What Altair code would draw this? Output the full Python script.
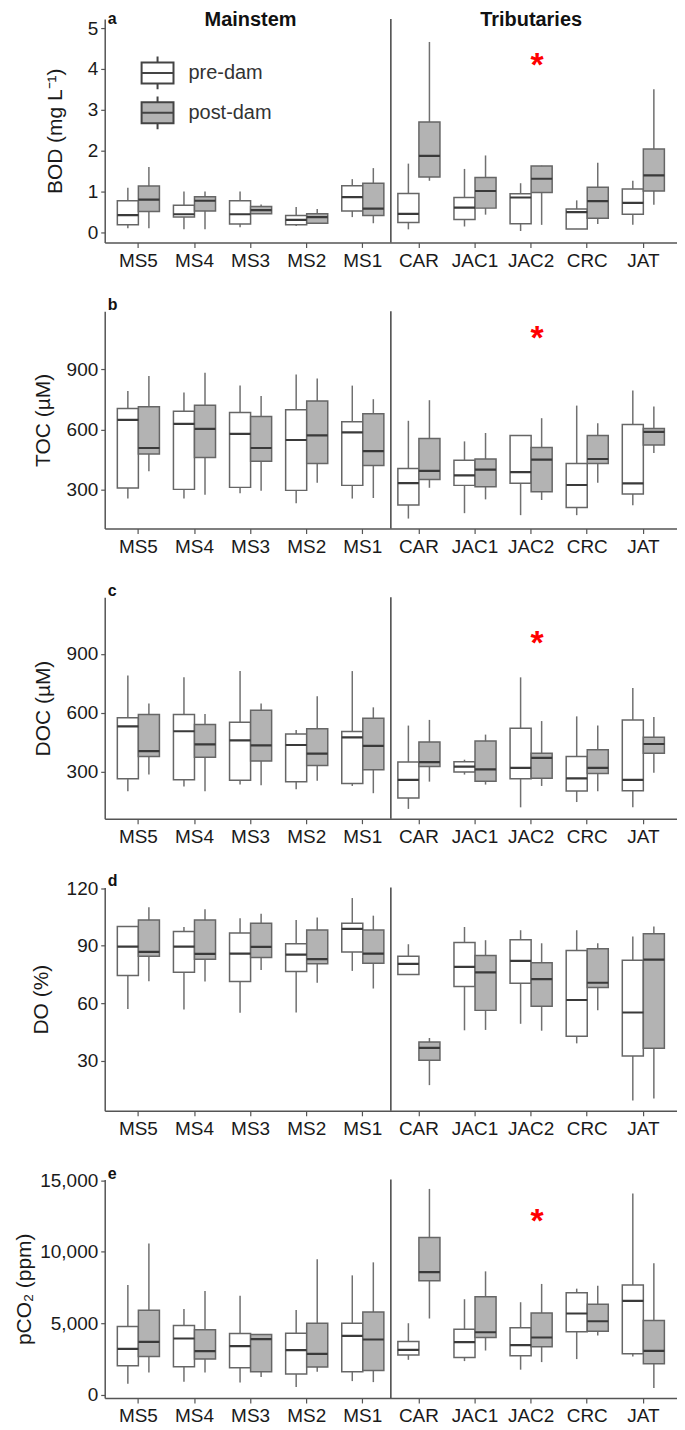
import altair as alt
import pandas as pd

SITES = ["MS5", "MS4", "MS3", "MS2", "MS1", "CAR", "JAC1", "JAC2", "CRC", "JAT"]
GROUPS = ["pre-dam", "post-dam"]

# (low whisker, Q1, median, Q3, high whisker) per site
BOD_PRE = [(0.10, 0.18, 0.42, 0.77, 1.09), (0.07, 0.37, 0.44, 0.66, 1.00), (0.12, 0.20, 0.44, 0.77, 1.00),
           (0.15, 0.18, 0.30, 0.41, 0.62), (0.37, 0.52, 0.86, 1.14, 1.30), (0.07, 0.24, 0.45, 0.95, 1.68),
           (0.14, 0.31, 0.60, 0.85, 1.55), (0.03, 0.21, 0.85, 0.94, 1.20), (0.08, 0.08, 0.49, 0.57, 0.78),
           (0.18, 0.44, 0.72, 1.06, 1.26)]
BOD_POST = [(0.10, 0.51, 0.80, 1.13, 1.60), (0.07, 0.52, 0.77, 0.87, 1.00), (0.45, 0.45, 0.54, 0.63, 0.68),
            (0.20, 0.22, 0.37, 0.45, 0.57), (0.22, 0.41, 0.58, 1.20, 1.57), (1.26, 1.35, 1.87, 2.70, 4.66),
            (0.43, 0.59, 1.01, 1.34, 1.88), (0.18, 0.97, 1.31, 1.62, 1.63), (0.20, 0.34, 0.76, 1.10, 1.70),
            (0.67, 1.01, 1.39, 2.04, 3.50)]
TOC_PRE = [(254, 307, 648, 704, 792), (254, 300, 628, 691, 784), (280, 310, 578, 684, 820),
           (230, 295, 547, 698, 875), (254, 320, 585, 638, 819), (154, 222, 331, 404, 643),
           (181, 320, 370, 446, 540), (171, 331, 386, 570, 570), (171, 209, 322, 429, 719),
           (220, 277, 330, 625, 794)]
TOC_POST = [(391, 477, 507, 713, 867), (273, 459, 603, 721, 883), (293, 441, 507, 665, 767),
            (333, 429, 570, 742, 855), (257, 419, 491, 678, 751), (308, 350, 393, 555, 746),
            (250, 313, 399, 452, 582), (247, 288, 449, 509, 656), (333, 429, 452, 570, 631),
            (482, 522, 588, 605, 714)]
DOC_PRE = [(200, 264, 531, 575, 791), (224, 259, 506, 591, 781), (234, 256, 460, 552, 813),
           (210, 249, 436, 492, 513), (227, 239, 475, 505, 813), (110, 166, 258, 349, 535),
           (285, 298, 326, 351, 361), (118, 264, 319, 521, 781), (145, 201, 266, 377, 582),
           (118, 203, 258, 564, 727)]
DOC_POST = [(285, 377, 405, 591, 647), (200, 373, 439, 541, 594), (230, 354, 434, 613, 647),
            (254, 331, 392, 519, 684), (190, 310, 431, 572, 628), (249, 326, 349, 451, 564),
            (234, 251, 312, 456, 489), (227, 266, 370, 394, 558), (200, 290, 319, 412, 535),
            (295, 394, 441, 475, 579)]
DO_PRE = [(56.9, 74.4, 89.5, 100, 100), (56.7, 76.1, 89.5, 97.3, 99.7), (55, 71.3, 85.8, 96.6, 104.2),
          (55.1, 76.5, 85.3, 91, 103.3), (76.8, 86.7, 98.7, 101.6, 114.8), (74.9, 74.9, 80.5, 84.4, 90.7),
          (45.8, 68.7, 78.9, 91.6, 99.7), (49.2, 70.4, 82, 93.1, 98), (39, 42.7, 61.6, 87.4, 98),
          (9.2, 32.4, 55.1, 82.4, 94.7)]
DO_POST = [(71.4, 84.4, 86.7, 103.3, 110), (71.3, 82.9, 85.7, 103.3, 109), (77.2, 83.8, 89.3, 101.6, 106.6),
           (70.6, 80.5, 82.9, 98.1, 104.6), (67.6, 80.8, 85.8, 98.1, 105.6), (17.2, 30.2, 36.6, 39.7, 41.8),
           (46, 56.2, 76, 84.8, 92.8), (45.6, 58.4, 72.5, 81, 91.2), (56.2, 68.1, 70.6, 88.3, 91.2),
           (10.2, 36.4, 82.7, 96.2, 100)]
PCO2_PRE = [(770, 2020, 3210, 4770, 7680), (910, 1960, 3930, 4840, 6000), (860, 1880, 3400, 4280, 6930),
            (540, 1440, 3120, 4300, 5930), (950, 1600, 4120, 5000, 8350), (2440, 2770, 3140, 3720, 5000),
            (2350, 2600, 3680, 4580, 6680), (1750, 2720, 3470, 4680, 6470), (2490, 4400, 5680, 7140, 7420),
            (2680, 2860, 6560, 7680, 14070)]
PCO2_POST = [(1560, 2680, 3700, 5910, 10580), (1560, 2490, 3050, 4540, 7260), (1230, 1600, 3890, 4210, 4210),
             (1600, 1930, 2860, 5000, 9470), (880, 1700, 3860, 5790, 9260), (5330, 7980, 8580, 11000, 14400),
             (3090, 4000, 4370, 6860, 8630), (2280, 3350, 4000, 5720, 7750), (4140, 4440, 5140, 6330, 7630),
             (470, 2160, 3070, 5190, 9190)]

HEADERS = ["Mainstem", "Tributaries"]
HEADER_SITES = ["MS3", "JAC2"]
STAR_SITE = "JAC2"

FONT = "Liberation Sans"
LEGEND_PATH = "M-1,-0.66H1V0.66H-1Z M-1,0H1 M0,-0.66V-1.03 M0,0.66V1.03"


def table(pre, post):
    rows = []
    for g, arr in zip(GROUPS, [pre, post]):
        for s, (lo, q1, md, q3, hi) in zip(SITES, arr):
            rows.append(dict(site=s, group=g, lo=lo, q1=q1, med=md, q3=q3, hi=hi))
    return pd.DataFrame(rows)


def panel(pre, post, domain, ticks, title, letter, height, tpad, fmt="d", star=None,
          legend=False, headers=False):
    df = table(pre, post)
    x = alt.X("site:N", sort=SITES, scale=alt.Scale(domain=SITES, paddingInner=0, paddingOuter=0.1),
              axis=alt.Axis(title=None, labelAngle=0))
    xo = alt.XOffset("group:N", sort=GROUPS,
                     scale=alt.Scale(domain=GROUPS, paddingInner=0, paddingOuter=0.333))
    yscale = alt.Scale(domain=domain, nice=False, zero=False)
    yaxis = alt.Axis(title=title, values=ticks, format=fmt, titlePadding=tpad)
    base = alt.Chart(df)
    whisk = base.mark_rule(color="#707070", strokeWidth=1.5).encode(
        x=x, xOffset=xo, y=alt.Y("lo:Q", scale=yscale, axis=yaxis), y2="hi:Q")
    if legend:
        leg = alt.Legend(orient="none", legendX=36, legendY=37, title=None, symbolType=LEGEND_PATH,
                         symbolSize=1024, symbolStrokeColor="#444", symbolStrokeWidth=2,
                         labelFontSize=20, labelFont=FONT, labelColor="#333", labelOffset=14,
                         rowPadding=-2, symbolOpacity=1)
    else:
        leg = None
    box = base.mark_bar(stroke="#666", strokeWidth=1.5).encode(
        x=x, xOffset=xo, y="q1:Q", y2="q3:Q",
        fill=alt.Fill("group:N", sort=GROUPS,
                      scale=alt.Scale(domain=GROUPS, range=["#ffffff", "#b3b3b3"]), legend=leg))
    med = base.mark_bar(stroke="#3a3a3a", strokeWidth=2.2, fillOpacity=0).encode(
        x=x, xOffset=xo, y="med:Q", y2="med:Q")
    sep = alt.Chart(pd.DataFrame({"site": ["CAR"]})).mark_rule(color="#444", strokeWidth=1.5).encode(
        x=alt.X("site:N", sort=SITES, bandPosition=0))
    if headers:
        lab = alt.Chart(pd.DataFrame({"t": [letter]})).mark_text(
            font=FONT, fontSize=16, fontWeight="bold", align="left", baseline="top", color="#111").encode(
            x=alt.value(3), y=alt.value(-8), text="t:N")
    else:
        lab = alt.Chart(pd.DataFrame({"t": [letter]})).mark_text(
            font=FONT, fontSize=16, fontWeight="bold", align="left", baseline="middle", color="#111").encode(
            x=alt.value(3), y=alt.value(-6), text="t:N")
    layers = [whisk, box, med, sep, lab]
    if star is not None:
        st = alt.Chart(pd.DataFrame({"site": [STAR_SITE], "v": [star], "t": ["*"]})).mark_text(
            font=FONT, fontSize=34, fontWeight="bold", color="#ff0000", dx=6, dy=5, baseline="middle").encode(
            x=alt.X("site:N", sort=SITES), y="v:Q", text="t:N")
        layers.append(st)
    if headers:
        hd = alt.Chart(pd.DataFrame({"site": HEADER_SITES, "t": HEADERS})).mark_text(
            font=FONT, fontSize=20, fontWeight="bold", baseline="top", color="#111").encode(
            x=alt.X("site:N", sort=SITES), y=alt.value(-9), text="t:N")
        layers.append(hd)
    return alt.layer(*layers).properties(width=574, height=height)


pa = panel(BOD_PRE, BOD_POST, [-0.25, 5.22], [0, 1, 2, 3, 4, 5], "BOD (mg L\u207b\u00b9)", "a", 224, 22,
           star=4.2, legend=True, headers=True)
pb = panel(TOC_PRE, TOC_POST, [104, 1191], [300, 600, 900], "TOC (\u00b5M)", "b", 218, 13, star=1079)
pc = panel(DOC_PRE, DOC_POST, [60, 1189], [300, 600, 900], "DOC (\u00b5M)", "c", 222, 13, star=977)
pd_ = panel(DO_PRE, DO_POST, [3.8, 120.3], [30, 60, 90, 120], "DO (%)", "d", 224, 15)
pe = panel(PCO2_PRE, PCO2_POST, [-230, 15050], [0, 5000, 10000, 15000], "pCO\u2082 (ppm)", "e", 219, 5,
           fmt=",.0f", star=12400)

chart = alt.vconcat(pa, pb, pc, pd_, pe, spacing=69, bounds="flush").resolve_scale(
    fill="independent").properties(
    padding={"top": 0, "left": 5, "right": 0, "bottom": 0}).configure_view(stroke=None).configure_axis(
    grid=False, domainColor="#555", domainWidth=1.5, tickColor="#555", tickWidth=1.2, tickSize=4,
    labelFont=FONT, labelFontSize=19, labelColor="#1a1a1a", labelPadding=3,
    titleFont=FONT, titleFontSize=21, titleFontWeight="normal", titleColor="#1a1a1a"
).configure_axisX(labelPadding=4, tickSize=5)

chart.save("out.html", embed_options={"renderer": "svg", "actions": False})
